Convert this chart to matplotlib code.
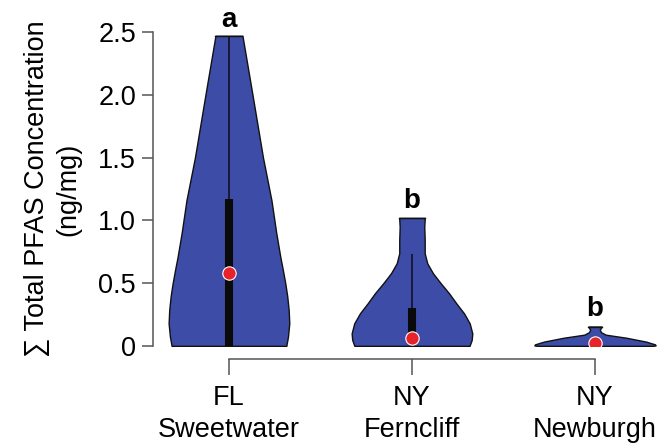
import matplotlib
matplotlib.use('Agg')
import matplotlib.pyplot as plt
import numpy as np

plt.rcParams['font.family'] = ['Liberation Sans', 'DejaVu Sans']

sites = ['FL\nSweetwater', 'NY\nFerncliff', 'NY\nNewburgh']
letters = ['a', 'b', 'b']
letter_y = [2.54, 1.10, 0.235]

# violin outlines: y levels and relative half widths
fl_y = [0, 0.074, 0.18, 0.287, 0.4, 0.5, 0.6, 0.711, 0.9, 1.16, 1.5, 2.0, 2.47]
fl_w = [0.955, 0.983, 1.005, 0.995, 0.97, 0.938, 0.9, 0.855, 0.788, 0.708, 0.567, 0.392, 0.225]
fe_y = [0, 0.048, 0.1, 0.18, 0.26, 0.34, 0.42, 0.5, 0.579, 0.658, 0.738, 0.844, 0.95, 1.02]
fe_w = [0.958, 0.995, 1.005, 0.962, 0.867, 0.738, 0.617, 0.478, 0.35, 0.255, 0.212, 0.212, 0.205, 0.213]
nb_y = [0, 0.005, 0.013, 0.035, 0.066, 0.09, 0.11, 0.13, 0.145, 0.155]
nb_w = [0.95, 1.01, 1.0, 0.85, 0.52, 0.18, 0.10, 0.08, 0.10, 0.11]

# box stats: q1, q3, whisker top, median
q1 = [0.0, 0.02, 0.01]
q3 = [1.17, 0.305, 0.04]
whisk = [2.47, 0.73, 0.06]
median = [0.58, 0.06, 0.02]

outlines = [(fl_y, fl_w), (fe_y, fe_w), (nb_y, nb_w)]

fig = plt.figure(figsize=(6.66, 4.48), dpi=100)
ax = fig.add_axes([153 / 666, 102 / 448, 513 / 666, 314 / 448])

half = 0.328
for i, (yy, ww) in enumerate(outlines):
    yy = np.array(yy)
    ww = np.array(ww) * half
    ax.fill_betweenx(yy, i - ww, i + ww, facecolor='#3d4ca6', edgecolor='#111111', lw=1.0, zorder=2)
    ax.plot([i - ww[-1], i + ww[-1]], [yy[-1], yy[-1]], color='#111111', lw=1.0, zorder=2)
    ax.plot([i - ww[0], i + ww[0]], [yy[0], yy[0]], color='#111111', lw=1.0, zorder=2)
    ax.vlines(i, q3[i], whisk[i], color='#111122', lw=1.2, zorder=3)
    ax.vlines(i, q1[i], q3[i], color='#0a0a0a', lw=5.8, zorder=3)
    ax.plot(i, median[i], 'o', ms=9.6, mfc='#e8222a', mec='white', mew=0.8, zorder=4)
    ax.text(i, letter_y[i], letters[i], ha='center', va='baseline', fontsize=20,
            fontweight='bold', clip_on=False)

ax.set_xlim(-0.415, 2.388)
ax.set_ylim(0, 2.5)

for s in ['top', 'right']:
    ax.spines[s].set_visible(False)
ax.spines['left'].set_bounds(0, 2.5)
ax.spines['bottom'].set_bounds(0, 2)
ax.spines['bottom'].set_position(('outward', 9.4))
for s in ['left', 'bottom']:
    ax.spines[s].set_color('#555555')
    ax.spines[s].set_linewidth(1.1)

ax.set_yticks([0, 0.5, 1.0, 1.5, 2.0, 2.5])
ax.set_yticklabels(['0', '0.5', '1.0', '1.5', '2.0', '2.5'])
ax.set_xticks([0, 1, 2])
ax.set_xticklabels(sites, linespacing=1.3)
ax.tick_params(axis='y', length=7.7, width=1.1, color='#555555', pad=4.5, labelsize=19.5)
ax.tick_params(axis='x', length=11.5, width=1.1, color='#555555', pad=7, labelsize=19.5)

ax.set_ylabel('\u2211 Total PFAS Concentration\n(ng/mg)', fontsize=19.5, labelpad=12, linespacing=1.3)

fig.savefig('out.png', dpi=100)
